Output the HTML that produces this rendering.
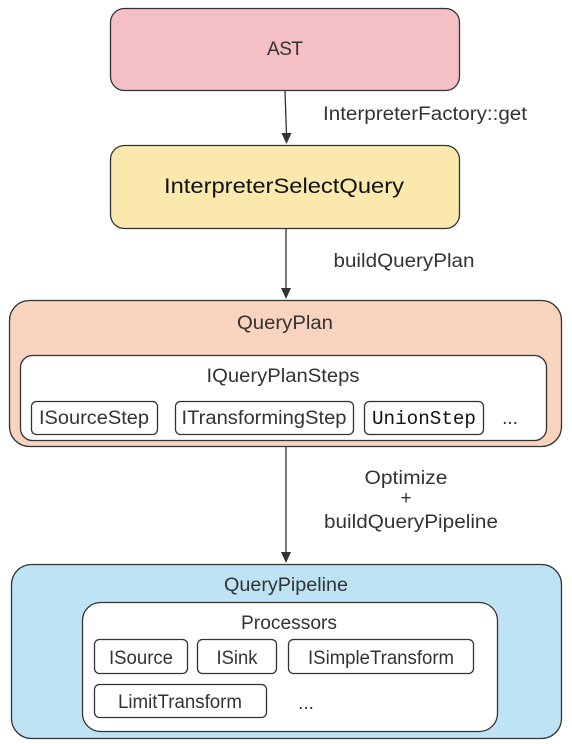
<!DOCTYPE html>
<html><head><meta charset="utf-8"><style>
html,body{margin:0;padding:0;background:#fff}
svg{display:block}
text{font-family:"Liberation Sans","DejaVu Sans",sans-serif;fill:#333;font-size:19px}
</style></head><body>
<svg width="572" height="744" viewBox="0 0 572 744" xmlns="http://www.w3.org/2000/svg">
<g stroke="#333" stroke-width="1.3">
<rect x="110.5" y="8.5" width="349" height="82" rx="14" fill="#f5bfc6"/>
<rect x="110.5" y="145.5" width="349" height="83" rx="14" fill="#fae8ad"/>
<rect x="9.5" y="300.5" width="552" height="146" rx="20" fill="#f8d3bd"/>
<rect x="20.5" y="355.5" width="526" height="85" rx="12" fill="#fff"/>
<rect x="31.5" y="401.5" width="126" height="33" rx="5" fill="#fff"/>
<rect x="175.5" y="401.5" width="178" height="33" rx="5" fill="#fff"/>
<rect x="364.5" y="401.5" width="119" height="33" rx="5" fill="#fff"/>
<rect x="11.5" y="564.5" width="550" height="174" rx="20" fill="#bee3f5"/>
<rect x="82.5" y="602.5" width="415" height="129" rx="18" fill="#fff"/>
<rect x="94.5" y="639.5" width="93" height="34" rx="5" fill="#fff"/>
<rect x="197.5" y="639.5" width="79" height="34" rx="5" fill="#fff"/>
<rect x="288.5" y="639.5" width="185" height="34" rx="5" fill="#fff"/>
<rect x="94.5" y="684.5" width="172" height="33" rx="5" fill="#fff"/>
</g>
<g stroke="#333" stroke-width="1.3" fill="none">
<line x1="285" y1="91" x2="286.5" y2="134"/>
<line x1="286" y1="229" x2="286" y2="289"/>
<line x1="286" y1="447" x2="286" y2="553"/>
</g>
<g fill="#333">
<path d="M281.5,133 L291.5,133 L286.5,144 Z"/>
<path d="M281,288 L291,288 L286,299 Z"/>
<path d="M281,552 L291,552 L286,563 Z"/>
</g>
<g text-anchor="middle" lengthAdjust="spacingAndGlyphs">
<text x="285" y="55" textLength="36">AST</text>
<text x="284" y="193" style="font-size:21px;fill:#111" textLength="240" lengthAdjust="spacingAndGlyphs">InterpreterSelectQuery</text>
<text x="285" y="329" textLength="96" lengthAdjust="spacingAndGlyphs">QueryPlan</text>
<text x="283" y="382" textLength="153" lengthAdjust="spacingAndGlyphs">IQueryPlanSteps</text>
<text x="94" y="424" textLength="110" lengthAdjust="spacingAndGlyphs">ISourceStep</text>
<text x="264" y="424" textLength="165" lengthAdjust="spacingAndGlyphs">ITransformingStep</text>
<text x="424" y="424" style="font-family:'Liberation Mono',monospace;fill:#111" textLength="104" lengthAdjust="spacingAndGlyphs">UnionStep</text>
<text x="510" y="424">...</text>
<text x="286" y="591" textLength="124" lengthAdjust="spacingAndGlyphs">QueryPipeline</text>
<text x="289" y="629" textLength="96" lengthAdjust="spacingAndGlyphs">Processors</text>
<text x="141" y="664" textLength="64" lengthAdjust="spacingAndGlyphs">ISource</text>
<text x="237" y="664" textLength="41" lengthAdjust="spacingAndGlyphs">ISink</text>
<text x="381" y="664" textLength="146" lengthAdjust="spacingAndGlyphs">ISimpleTransform</text>
<text x="180" y="708" textLength="124" lengthAdjust="spacingAndGlyphs">LimitTransform</text>
<text x="306" y="709">...</text>
<text x="425" y="120" textLength="204" lengthAdjust="spacingAndGlyphs">InterpreterFactory::get</text>
<text x="404" y="267" textLength="141" lengthAdjust="spacingAndGlyphs">buildQueryPlan</text>
<text x="406" y="484" textLength="83" lengthAdjust="spacingAndGlyphs">Optimize</text>
<text x="406" y="504">+</text>
<text x="411" y="528" textLength="174" lengthAdjust="spacingAndGlyphs">buildQueryPipeline</text>
</g>
</svg>
</body></html>
